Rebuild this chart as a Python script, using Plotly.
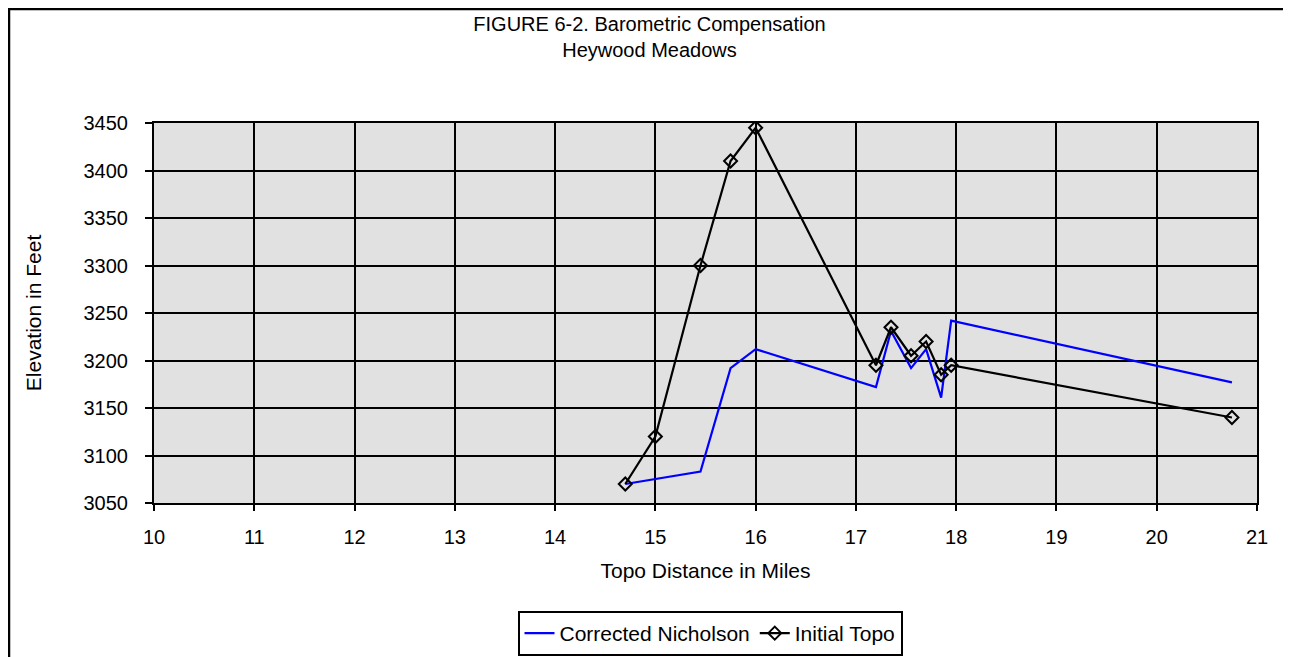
import plotly.graph_objects as go

miles = [14.7, 15.0, 15.45, 15.75, 16.0, 17.2, 17.35, 17.55, 17.7, 17.85, 17.95, 20.75]
corrected_nicholson = [3070, 3075, 3083, 3192, 3212, 3172, 3231, 3192, 3212, 3161, 3242, 3177]
initial_topo = [3070, 3120, 3300, 3410, 3445, 3195, 3235, 3205, 3220, 3185, 3195, 3140]

x_ticks = list(range(10, 22))
y_ticks = list(range(3050, 3451, 50))

# page offset of the figure (browser body margin)
OFF = 8
W, H = 1291 - OFF, 657 - OFF
L, R, T, B = 154 - OFF, 1257 - OFF, 123 - OFF, 503 - OFF
pw, ph = R - L, B - T

def px(xpix):
    return (xpix - L) / pw

def py(ypix):
    return (B - ypix) / ph

font_family = "Liberation Sans, Arial, sans-serif"

fig = go.Figure()
fig.add_trace(go.Scatter(
    x=miles, y=corrected_nicholson, name="Corrected Nicholson",
    mode="lines", line=dict(color="#0000FF", width=2.2)))
fig.add_trace(go.Scatter(
    x=miles, y=initial_topo, name="Initial Topo",
    mode="lines+markers", line=dict(color="black", width=2.2),
    marker=dict(symbol="diamond-open", size=10, color="black", line=dict(width=2, color="black"))))

fig.update_layout(
    width=W, height=H,
    margin=dict(l=L, r=W - R, t=T, b=H - B, autoexpand=False),
    paper_bgcolor="white", plot_bgcolor="#e1e1e1",
    font=dict(family=font_family, size=20, color="black"),
    title=dict(text="FIGURE 6-2. Barometric Compensation<br>Heywood Meadows",
               x=0.5, xref="container", xanchor="center",
               y=1 - 23 / H, yref="container", yanchor="middle",
               font=dict(size=20, color="black")),
    showlegend=True,
    legend=dict(orientation="h", x=px(710 - OFF), xanchor="center", y=py(633.5 - OFF), yanchor="middle",
                bgcolor="white", bordercolor="black", borderwidth=2,
                font=dict(size=21), tracegroupgap=0),
    xaxis=dict(range=[10, 21], tickvals=x_ticks, ticktext=[str(v) for v in x_ticks],
               showgrid=True, gridcolor="black", gridwidth=2,
               showline=True, linecolor="black", linewidth=2, mirror=True,
               ticks="outside", ticklen=6, tickwidth=2, tickcolor="black",
               ticklabelstandoff=9, zeroline=False,
               title=dict(text="Topo Distance in Miles", standoff=16, font=dict(size=21))),
    yaxis=dict(range=[3050, 3450], tickvals=y_ticks, ticktext=[str(v) for v in y_ticks],
               showgrid=True, gridcolor="black", gridwidth=2,
               showline=True, linecolor="black", linewidth=2, mirror=True,
               ticks="outside", ticklen=7, tickwidth=2, tickcolor="black",
               ticklabelstandoff=13, zeroline=False,
               title=dict(text="Elevation in Feet", standoff=36, font=dict(size=21))),
)

# outer frame of the chart
fig.add_shape(type="line", xref="paper", yref="paper", x0=px(1), x1=px(1), y0=py(1), y1=py(700),
              line=dict(color="black", width=2.5))
fig.add_shape(type="line", xref="paper", yref="paper", x0=px(0), x1=px(1281.5), y0=py(1), y1=py(1),
              line=dict(color="black", width=2.5))
fig.add_shape(type="line", xref="paper", yref="paper", x0=px(1281.5), x1=px(1281.5), y0=py(0), y1=py(700),
              line=dict(color="black", width=1.5))

fig.write_html("out.html")
